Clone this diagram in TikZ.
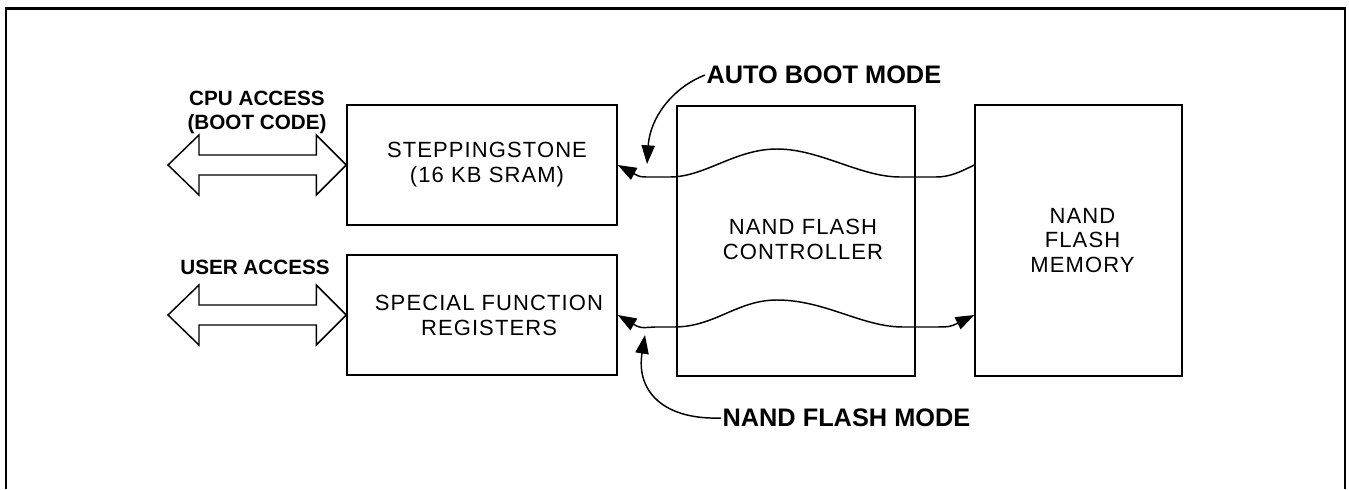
\documentclass[tikz,border=0pt]{standalone}
\usepackage{fontspec}
\setmainfont{Liberation Sans}
\usetikzlibrary{arrows.meta,calc}
\tikzset{
  blk/.style={draw, line width=1.1pt, inner sep=0pt},
  blktext/.style={align=center, inner sep=0pt,
    font=\fontsize{16.5}{18.7}\selectfont\addfontfeature{LetterSpace=5}},
  lab/.style={font=\bfseries\fontsize{19}{22}\selectfont, inner sep=1pt},
  sidelab/.style={font=\bfseries\fontsize{15.5}{18}\selectfont, inner sep=0pt, align=center},
  wire/.style={line width=1.1pt},
  tip/.style={-{Triangle[length=14pt,width=10pt]}},
  bothtips/.style={{Triangle[length=14pt,width=10pt]}-{Triangle[length=14pt,width=10pt]}},
  fatarrow/.style={draw, line width=1.1pt, line join=miter},
  frame/.style={line width=2.2pt}
}
\begin{document}
\begin{tikzpicture}[x=0.75pt,y=-0.75pt]
\useasboundingbox (0,0) rectangle (1349,489);
\draw[frame] (6,489) -- (6,8.5) -- (1345,8.5) -- (1345,489);

% blocks
\node[blk, minimum width=202.5pt, minimum height=90pt] (ss) at (482,165) {};
\node[blktext] at ($(ss.center)+(5,0)$) {STEPPINGSTONE\\(16 KB SRAM)};
\node[blk, minimum width=202.5pt, minimum height=90pt] (sfr) at (482,315) {};
\node[blktext] at ($(sfr.center)+(7,0)$) {SPECIAL FUNCTION\\REGISTERS};
\node[blk, minimum width=178.5pt, minimum height=202.5pt] (ctl) at (796,241) {};
\node[blktext] at ($(ctl.center)+(7,-2)$) {NAND FLASH\\CONTROLLER};
\node[blk, minimum width=155.25pt, minimum height=203.25pt] (mem) at (1078.5,240.5) {};
\node[blktext] at ($(mem.center)+(4,0)$) {NAND\\FLASH\\MEMORY};

% side labels
\node[sidelab] (cpu) at (257,112) {CPU ACCESS\\(BOOT CODE)};
\node[sidelab] (usr) at (255,267) {USER ACCESS};

% fat double arrows
\coordinate (cpuend) at (168,165);
\draw[fatarrow] (cpuend) -- ++(31,-30) -- ++(0,20) -- ($(ss.west)+(-30,-10)$) -- ++(0,-20)
  -- (ss.west) -- ++(-30,30) -- ++(0,-20) -- ($(cpuend)+(31,10)$) -- ++(0,20) -- cycle;
\coordinate (usrend) at (168,315);
\draw[fatarrow] (usrend) -- ++(31,-30) -- ++(0,20) -- ($(sfr.west)+(-30,-10)$) -- ++(0,-20)
  -- (sfr.west) -- ++(-30,30) -- ++(0,-20) -- ($(usrend)+(31,10)$) -- ++(0,20) -- cycle;

% wavy data paths
\draw[wire, tip] (mem.west |- ss.east) .. controls (960,172) and (950,177) .. (936,177)
  -- (900,177) .. controls (860,177) and (820,149) .. (777,149)
  .. controls (735,149) and (705,177) .. (670,177)
  -- (650,177) .. controls (640,177) .. (ss.east);
\draw[wire, bothtips] (sfr.east) .. controls (640,328) .. (655,327)
  -- (674,327) .. controls (715,327) and (737,300) .. (777,300)
  .. controls (825,300) and (862,327) .. (903,327)
  -- (930,327) .. controls (950,327) .. (mem.west |- sfr.east);

% mode labels
\node[lab, anchor=west] (auto) at (705,75) {AUTO BOOT MODE};
\node[lab, anchor=west] (nfm) at (721,418) {NAND FLASH MODE};
\coordinate (autotip) at (647,164);
\coordinate (nfmtip) at (645,335);
\draw[wire, tip] (auto.west) .. controls (672,88) and (650,118) .. (autotip);
\draw[wire, tip] (nfm.west) .. controls (662,420) and (636,390) .. (nfmtip);
\end{tikzpicture}
\end{document}
